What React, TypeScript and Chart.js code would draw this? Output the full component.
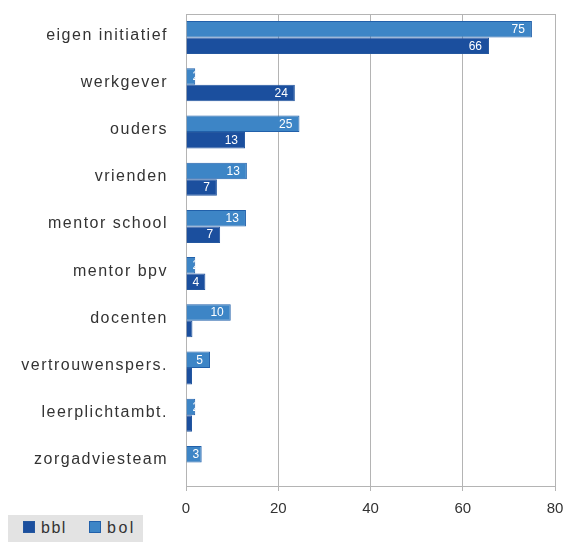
import React, { useEffect, useRef } from 'react';
import { Chart, registerables } from 'chart.js';

Chart.register(...registerables);

const categories = [
  'eigen initiatief',
  'werkgever',
  'ouders',
  'vrienden',
  'mentor school',
  'mentor bpv',
  'docenten',
  'vertrouwenspers.',
  'leerplichtambt.',
  'zorgadviesteam',
];
const bolValues = [75, 2, 24.6, 13.2, 13, 2, 9.7, 5.2, 2, 3.4];
const bblValues = [65.7, 23.6, 12.8, 6.7, 7.4, 4.2, 1.4, 1.3, 1.3, 0];
const xTicks = [0, 20, 40, 60, 80];
const seriesNames = ['bbl', 'bol'];

const BBL_FILL = '#1b4f9e';
const BBL_BORDER = '#24579f';
const BOL_FILL = '#3d85c6';
const BOL_BORDER = '#2160aa';
const GRID = '#b4b4b4';
const TEXT = '#333333';
const FONT = '"Liberation Sans", Arial, sans-serif';

const valueLabels = {
  id: 'valueLabels',
  afterDatasetsDraw(chart: any) {
    const ctx = chart.ctx;
    chart.data.datasets.forEach((ds: any, di: number) => {
      const meta = chart.getDatasetMeta(di);
      meta.data.forEach((el: any, i: number) => {
        const label = Math.round(ds.data[i]);
        if (label < 2) return;
        const { x, y, base, height } = el.getProps(['x', 'y', 'base', 'height'], true);
        const text = String(label);
        ctx.save();
        ctx.font = '12px ' + FONT;
        const w = ctx.measureText(text).width;
        const left = Math.max(base + 6, x - 7 - w);
        ctx.beginPath();
        ctx.rect(base, y - height / 2, x - base, height);
        ctx.clip();
        ctx.fillStyle = '#ffffff';
        ctx.textBaseline = 'middle';
        ctx.textAlign = 'left';
        ctx.fillText(text, left, y + 0.5);
        ctx.restore();
      });
    });
  },
};

const frame = {
  id: 'frame',
  afterLayout(chart: any) {
    const y = chart.scales.y;
    if (y && !y.__ls) {
      const orig = y.drawLabels.bind(y);
      y.drawLabels = (area: any) => {
        const c = y.ctx;
        const prev = c.letterSpacing;
        c.letterSpacing = '1.5px';
        orig(area);
        c.letterSpacing = prev;
      };
      y.__ls = true;
    }
  },
  beforeDatasetsDraw(chart: any) {
    const { ctx, chartArea } = chart;
    ctx.save();
    ctx.strokeStyle = GRID;
    ctx.lineWidth = 1;
    ctx.beginPath();
    ctx.moveTo(chartArea.left, chartArea.top + 0.5);
    ctx.lineTo(chartArea.right + 0.5, chartArea.top + 0.5);
    ctx.stroke();
    ctx.restore();
  },
};

export default function App() {
  const ref = useRef<HTMLCanvasElement>(null);

  useEffect(() => {
    if (!ref.current) return;
    const chart = new Chart(ref.current, {
      type: 'bar',
      data: {
        labels: categories,
        datasets: [
          {
            label: seriesNames[1],
            data: bolValues,
            backgroundColor: BOL_FILL,
            borderColor: BOL_BORDER,
            borderWidth: 1,
            categoryPercentage: 0.7,
            barPercentage: 1,
          },
          {
            label: seriesNames[0],
            data: bblValues,
            backgroundColor: BBL_FILL,
            borderColor: BBL_BORDER,
            borderWidth: 1,
            categoryPercentage: 0.7,
            barPercentage: 1,
          },
        ],
      },
      options: {
        indexAxis: 'y',
        responsive: false,
        animation: false,
        devicePixelRatio: 1,
        layout: { padding: { top: 14, right: 9, bottom: 26, left: 0 } },
        plugins: {
          legend: { display: false },
          tooltip: { enabled: false },
        },
        scales: {
          x: {
            min: 0,
            max: 80,
            afterBuildTicks: (s: any) => {
              s.ticks = xTicks.map((v) => ({ value: v }));
            },
            afterFit: (s: any) => {
              s.height = 30;
              s.paddingLeft = 0;
              s.paddingRight = 0;
            },
            grid: { color: GRID, lineWidth: 1, tickLength: 5, drawTicks: true },
            border: { color: GRID, width: 1 },
            ticks: {
              color: TEXT,
              font: { family: FONT, size: 15 },
              padding: 9,
            },
          },
          y: {
            afterFit: (s: any) => {
              s.width = 186;
              s.paddingTop = 0;
              s.paddingBottom = 0;
            },
            grid: { display: false },
            border: { display: true, color: GRID, width: 1 },
            ticks: {
              color: TEXT,
              font: { family: FONT, size: 16 },
              padding: 10,
              labelOffset: -2.5,
              autoSkip: false,
            },
          },
        },
      },
      plugins: [valueLabels, frame],
    });
    return () => chart.destroy();
  }, []);

  const legendText: React.CSSProperties = {
    position: 'absolute',
    top: 4,
    fontFamily: FONT,
    fontSize: 16,
    letterSpacing: '1.5px',
    color: TEXT,
    lineHeight: '18px',
  };

  return (
    <div style={{ position: 'absolute', left: 0, top: 0, width: 564, height: 542, background: '#fff' }}>
      <canvas ref={ref} width={564} height={542} style={{ width: 564, height: 542, display: 'block' }} />
      <div
        style={{
          position: 'absolute',
          left: 8,
          top: 515,
          width: 135,
          height: 27,
          background: '#e3e3e3',
        }}
      >
        <div
          style={{
            position: 'absolute',
            left: 15,
            top: 6,
            width: 10,
            height: 10,
            background: BBL_FILL,
            border: '1px solid ' + BBL_BORDER,
          }}
        />
        <div style={{ ...legendText, left: 33 }}>{seriesNames[0]}</div>
        <div
          style={{
            position: 'absolute',
            left: 81,
            top: 6,
            width: 10,
            height: 10,
            background: BOL_FILL,
            border: '1px solid ' + BOL_BORDER,
          }}
        />
        <div style={{ ...legendText, left: 99, letterSpacing: '2.5px' }}>{seriesNames[1]}</div>
      </div>
    </div>
  );
}
